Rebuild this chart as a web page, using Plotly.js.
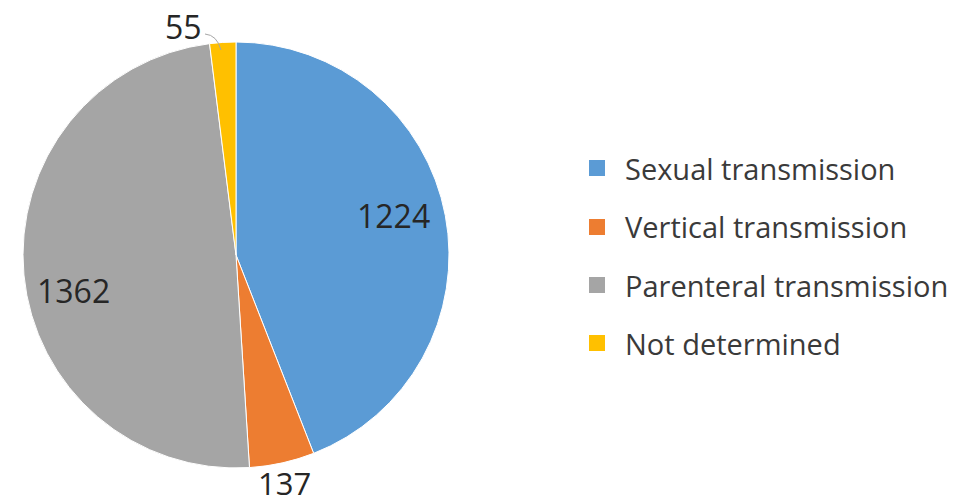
<!DOCTYPE html>
<html>
<head>
<meta charset="utf-8">
<script src="https://cdn.plot.ly/plotly-3.0.1.min.js"></script>
<style>html,body{margin:0;padding:0;background:#fff;}#chart{width:961px;height:504px;}</style>
</head>
<body>
<div id="chart"></div>
<script>
const categories = ["Sexual transmission", "Vertical transmission", "Parenteral transmission", "Not determined"];
const values = [1224, 137, 1362, 55];
const colors = ["#5B9BD5", "#ED7D31", "#A5A5A5", "#FFC000"];

const W = 961, H = 504;
const cx = 236, cy = 255, r = 213;
const px = x => x / W;
const py = y => (H - y) / H;

const trace = {
  type: "pie",
  labels: categories,
  values: values,
  sort: false,
  direction: "clockwise",
  rotation: 0,
  marker: {colors: colors, line: {color: "#ffffff", width: 1}},
  textinfo: "none",
  automargin: false,
  showlegend: false,
  hoverinfo: "label+value",
  domain: {x: [px(cx - r), px(cx + r)], y: [py(cy + r), py(cy - r)]}
};

// data-label placement (pixel positions, Excel-style)
const labelPos = [[393, 215], [284, 483], [73, 290], [183, 26]];
const labelSize = [32, 31, 32, 32];

const shapes = [], annotations = [];
values.forEach((v, i) => {
  annotations.push({xref: "paper", yref: "paper", x: px(labelPos[i][0]), y: py(labelPos[i][1]),
    xanchor: "center", yanchor: "middle", showarrow: false, text: String(v),
    font: {family: "Open Sans", size: labelSize[i], color: "#262626"}});
});
// leader line for the small slice label
shapes.push({type: "path", xref: "paper", yref: "paper",
  path: `M ${px(205)} ${py(34)} Q ${px(217)} ${py(35)} ${px(221)} ${py(50)}`,
  line: {color: "#A6A6A6", width: 1}});

const legendX = 597, legendTextX = 623;
const legendY = [168, 227, 285, 343];
categories.forEach((c, i) => {
  const s = 8;
  shapes.push({type: "rect", xref: "paper", yref: "paper",
    x0: px(legendX - s), x1: px(legendX + s),
    y0: py(legendY[i] + s), y1: py(legendY[i] - s),
    fillcolor: colors[i], line: {width: 0}});
  annotations.push({xref: "paper", yref: "paper", x: px(legendTextX), y: py(legendY[i]),
    xanchor: "left", yanchor: "middle", showarrow: false, text: c,
    font: {family: "Open Sans", size: 29, color: "#3a3a3a"}});
});

const layout = {
  width: W, height: H,
  margin: {l: 0, r: 0, t: 0, b: 0},
  paper_bgcolor: "#ffffff",
  plot_bgcolor: "#ffffff",
  shapes: shapes,
  annotations: annotations,
  showlegend: false
};

Plotly.newPlot("chart", [trace], layout, {displayModeBar: false, staticPlot: true});
</script>
</body>
</html>
